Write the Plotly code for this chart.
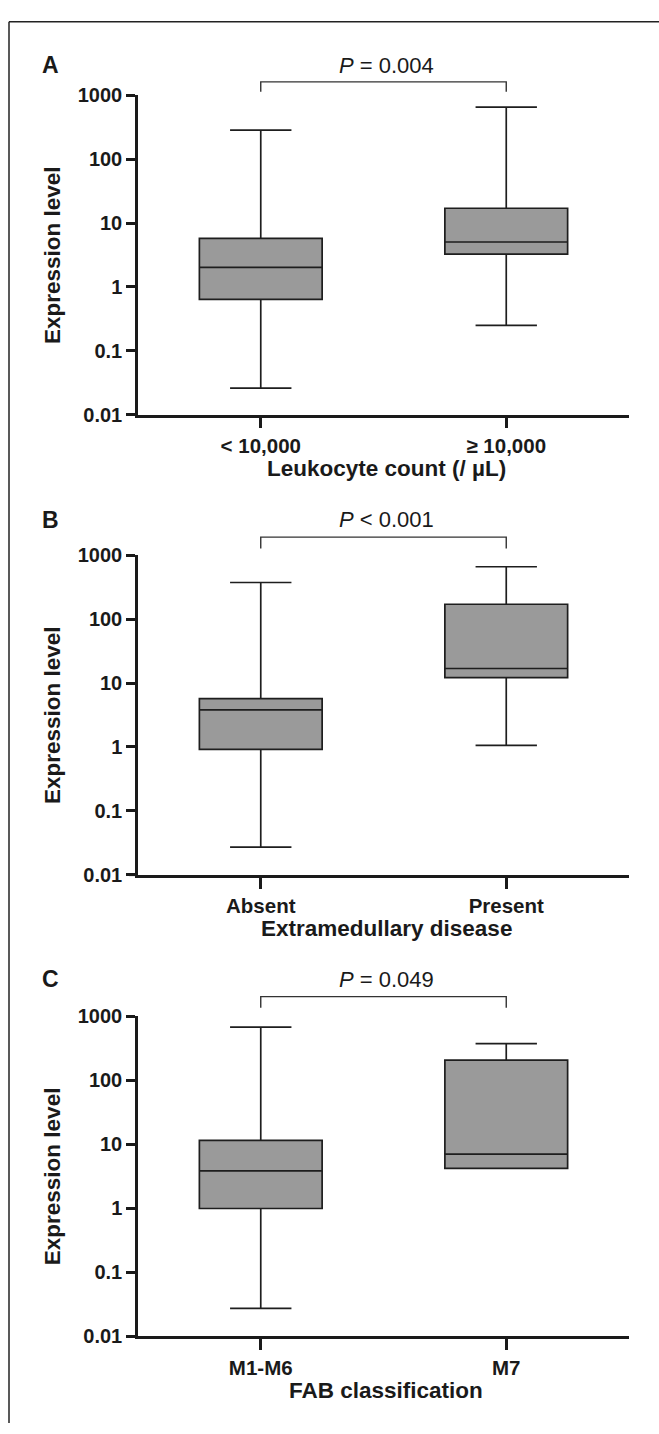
import plotly.graph_objects as go

W, H = 659, 1434

# ---------------- data ----------------
cats_a = ["< 10,000", "≥ 10,000"]
lower_a = [0.026, 0.25]
q1_a = [0.64, 3.26]
median_a = [2.03, 5.06]
q3_a = [5.75, 17.1]
upper_a = [285, 653]

cats_b = ["Absent", "Present"]
lower_b = [0.0272, 1.06]
q1_b = [0.92, 12.2]
median_b = [3.81, 16.9]
q3_b = [5.69, 171]
upper_b = [374, 660]

cats_c = ["M1-M6", "M7"]
lower_c = [0.0273, 4.2]
q1_c = [0.99, 4.2]
median_c = [3.84, 7.0]
q3_c = [11.5, 205]
upper_c = [670, 371]

ytick_vals = [0.01, 0.1, 1, 10, 100, 1000]
ytick_text = ["0.01", "0.1", "1", "10", "100", "1000"]

panel_letters = ["A", "B", "C"]
p_texts = ["<i>P</i> = 0.004", "<i>P</i> < 0.001", "<i>P</i> = 0.049"]
x_titles = ["Leukocyte count (/ µL)", "Extramedullary disease", "FAB classification"]
y_title = "Expression level"

# ---------------- layout geometry (pixels) ----------------
def px_x(x):
    return x / W

def px_y(y):
    return 1 - y / H

x_left, x_right = 138, 629
# (top pixel of 1000, bottom pixel of 0.01) per panel
panel_px = [(85.7, 410.0), (552.7, 877.3), (1020.7, 1346.0)]
letter_y = [55, 516.7, 983.3]
ptext_y = [55, 516.7, 983.3]
bracket_y = [(72, 82), (534.3, 546), (1001, 1012.3)]

FONT = "Liberation Sans, Arial, sans-serif"
TXT = "#1a1a1a"
BOXFILL = "#9a9a9a"

fig = go.Figure()

datasets = [
    (cats_a, lower_a, q1_a, median_a, q3_a, upper_a),
    (cats_b, lower_b, q1_b, median_b, q3_b, upper_b),
    (cats_c, lower_c, q1_c, median_c, q3_c, upper_c),
]

annotations = []
shapes = []

for i, (cats, lo, q1, med, q3, up) in enumerate(datasets):
    sfx = "" if i == 0 else str(i + 1)
    fig.add_trace(go.Box(
        x=cats, lowerfence=lo, q1=q1, median=med, q3=q3, upperfence=up,
        boxpoints=False, width=0.5, whiskerwidth=0.5,
        fillcolor=BOXFILL, line=dict(color="#1e1e1e", width=1.7),
        xaxis="x" + sfx, yaxis="y" + sfx, showlegend=False, hoverinfo="skip",
    ))
    top, bot = panel_px[i]
    fig.update_layout(**{
        "xaxis" + sfx: dict(
            domain=[px_x(x_left), px_x(x_right)], anchor="y" + sfx,
            type="category", range=[-0.5, 1.5],
            showline=True, linewidth=2.5, linecolor=TXT,
            ticks="outside", ticklen=11, tickwidth=2.5, tickcolor=TXT,
            showgrid=False, zeroline=False,
            tickfont=dict(family=FONT, size=20.5, color=TXT, weight="bold"),
        ),
        "yaxis" + sfx: dict(
            domain=[px_y(bot), px_y(top)], anchor="x" + sfx,
            type="log", range=[-2, 3],
            tickvals=ytick_vals, ticktext=ytick_text,
            showline=True, linewidth=2.5, linecolor=TXT,
            ticks="outside", ticklen=9, tickwidth=2.5, tickcolor=TXT,
            showgrid=False, zeroline=False,
            tickfont=dict(family=FONT, size=20, color=TXT, weight="bold"),
        ),
    })
    # panel letter
    annotations.append(dict(
        text="<b>%s</b>" % panel_letters[i], x=px_x(50), y=px_y(letter_y[i]),
        xref="paper", yref="paper", showarrow=False, xanchor="center", yanchor="middle",
        font=dict(family=FONT, size=23, color=TXT),
    ))
    # P value text
    annotations.append(dict(
        text=p_texts[i], x=px_x(386), y=px_y(ptext_y[i]),
        xref="paper", yref="paper", showarrow=False, xanchor="center", yanchor="middle",
        font=dict(family=FONT, size=22, color=TXT),
    ))
    # x title
    annotations.append(dict(
        text="<b>%s</b>" % x_titles[i], x=px_x(386), y=px_y(bot + 55),
        xref="paper", yref="paper", showarrow=False, xanchor="center", yanchor="middle",
        font=dict(family=FONT, size=22.5, color=TXT),
    ))
    # y title
    annotations.append(dict(
        text="<b>%s</b>" % y_title, x=px_x(52), y=px_y((top + bot) / 2),
        xref="paper", yref="paper", showarrow=False, xanchor="center", yanchor="middle",
        textangle=-90, font=dict(family=FONT, size=22.5, color=TXT),
    ))
    # significance bracket
    by, bd = bracket_y[i]
    xl = x_left + 0.25 * (x_right - x_left)
    xr = x_left + 0.75 * (x_right - x_left)
    shapes.append(dict(
        type="path", xref="paper", yref="paper",
        path="M %f,%f L %f,%f L %f,%f L %f,%f" % (
            px_x(xl), px_y(bd), px_x(xl), px_y(by), px_x(xr), px_y(by), px_x(xr), px_y(bd)),
        line=dict(color="#333333", width=1.4),
    ))
    # x-axis line continues slightly left of the y-axis (as in the original)
    shapes.append(dict(type="line", xref="paper", yref="paper",
                       x0=px_x(129), x1=px_x(x_left), y0=px_y(bot), y1=px_y(bot),
                       line=dict(color=TXT, width=2.5)))

# outer frame (top and left edges)
shapes.append(dict(type="line", xref="paper", yref="paper",
                   x0=px_x(9), x1=1, y0=px_y(11), y1=px_y(11),
                   line=dict(color="#222222", width=1.5)))
shapes.append(dict(type="line", xref="paper", yref="paper",
                   x0=px_x(9), x1=px_x(9), y0=px_y(11), y1=0,
                   line=dict(color="#222222", width=1.5)))

fig.update_layout(
    width=W, height=H,
    margin=dict(l=0, r=0, t=0, b=0),
    paper_bgcolor="white", plot_bgcolor="white",
    annotations=annotations, shapes=shapes,
    font=dict(family=FONT, color=TXT),
)

fig.write_html("out.html", config={"displayModeBar": False},
               post_script="document.body.style.margin='0';")
